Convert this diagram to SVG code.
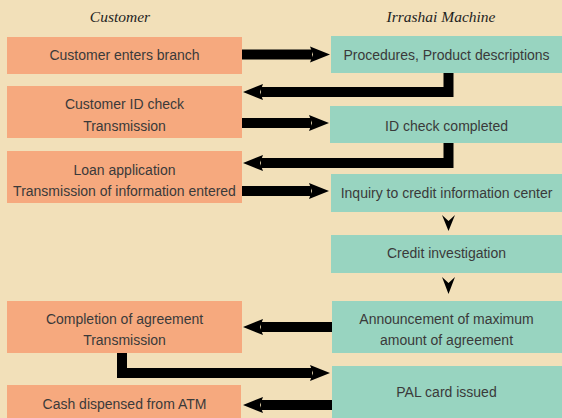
<svg xmlns="http://www.w3.org/2000/svg" width="562" height="418" viewBox="0 0 562 418">
  <style>
    .bg { fill: #F2E0B9; }
    .cust { fill: #F6A97E; }
    .mach { fill: #98D4C0; }
    .lbl { font-family: "Liberation Sans", Arial, sans-serif; font-size: 14px; fill: #3a3a3a; text-anchor: middle; }
    .hdr { font-family: "Liberation Serif", "Times New Roman", serif; font-style: italic; font-size: 15.5px; fill: #1e1e1e; text-anchor: middle; }
    .conn { fill: none; stroke: #000; stroke-width: 10; stroke-linejoin: miter; }
    .head { fill: #000; }
  </style>
  <defs>
    <marker id="arrow" markerUnits="userSpaceOnUse" viewBox="0 -9 22 18" markerWidth="22" markerHeight="18" refX="2" refY="0" orient="auto">
      <path d="M0,-8 L20,0 L0,8 L3,0 Z" fill="#000"/>
    </marker>
  </defs>

  <rect class="bg" x="0" y="0" width="562" height="418"/>

  <!-- column headers -->
  <text class="hdr" x="120" y="22">Customer</text>
  <text class="hdr" x="441" y="22">Irrashai Machine</text>

  <!-- customer side -->
  <g id="customer-enters">
    <rect class="cust" x="7" y="37" width="235" height="37"/>
    <text class="lbl" x="124.5" y="60">Customer enters branch</text>
  </g>
  <g id="customer-id">
    <rect class="cust" x="7" y="86" width="235" height="52"/>
    <text class="lbl" x="124.5" y="109">Customer ID check</text>
    <text class="lbl" x="124.5" y="131">Transmission</text>
  </g>
  <g id="loan-application">
    <rect class="cust" x="7" y="151" width="235" height="52"/>
    <text class="lbl" x="124.5" y="175">Loan application</text>
    <text class="lbl" x="124.5" y="196">Transmission of information entered</text>
  </g>
  <g id="agreement-completion">
    <rect class="cust" x="7" y="301" width="235" height="52"/>
    <text class="lbl" x="124.5" y="324">Completion of agreement</text>
    <text class="lbl" x="124.5" y="345">Transmission</text>
  </g>
  <g id="cash-dispensed">
    <rect class="cust" x="7" y="385" width="234" height="40"/>
    <text class="lbl" x="124.5" y="409">Cash dispensed from ATM</text>
  </g>

  <!-- machine side -->
  <g id="procedures">
    <rect class="mach" x="331" y="36" width="231" height="37"/>
    <text class="lbl" x="446.5" y="60">Procedures, Product descriptions</text>
  </g>
  <g id="id-completed">
    <rect class="mach" x="330" y="106" width="232" height="37"/>
    <text class="lbl" x="446.5" y="131">ID check completed</text>
  </g>
  <g id="credit-inquiry">
    <rect class="mach" x="331" y="174" width="231" height="38"/>
    <text class="lbl" x="446.5" y="198">Inquiry to credit information center</text>
  </g>
  <g id="credit-investigation">
    <rect class="mach" x="331" y="235" width="231" height="38"/>
    <text class="lbl" x="446.5" y="258">Credit investigation</text>
  </g>
  <g id="max-amount">
    <rect class="mach" x="332" y="301" width="230" height="52"/>
    <text class="lbl" x="446.5" y="324">Announcement of maximum</text>
    <text class="lbl" x="446.5" y="345">amount of agreement</text>
  </g>
  <g id="pal-card">
    <rect class="mach" x="332" y="366" width="230" height="60"/>
    <text class="lbl" x="446.5" y="397">PAL card issued</text>
  </g>

  <!-- connectors -->
  <g id="connectors">
    <path class="conn" d="M242,54.5 H312" marker-end="url(#arrow)"/>
    <path class="conn" d="M448.5,73 V92 H261" marker-end="url(#arrow)"/>
    <path class="conn" d="M242,123 H311" marker-end="url(#arrow)"/>
    <path class="conn" d="M448.5,143 V163 H261" marker-end="url(#arrow)"/>
    <path class="conn" d="M242,191 H311" marker-end="url(#arrow)"/>
    <path class="head" d="M442,215 L448.5,221 L455,215 L448.5,231 Z"/>
    <path class="head" d="M442,277 L448.5,283 L455,277 L448.5,294 Z"/>
    <path class="conn" d="M332,327 H261" marker-end="url(#arrow)"/>
    <path class="conn" d="M122,353 V373 H312" marker-end="url(#arrow)"/>
    <path class="conn" d="M332,405 H261" marker-end="url(#arrow)"/>
  </g>
</svg>
